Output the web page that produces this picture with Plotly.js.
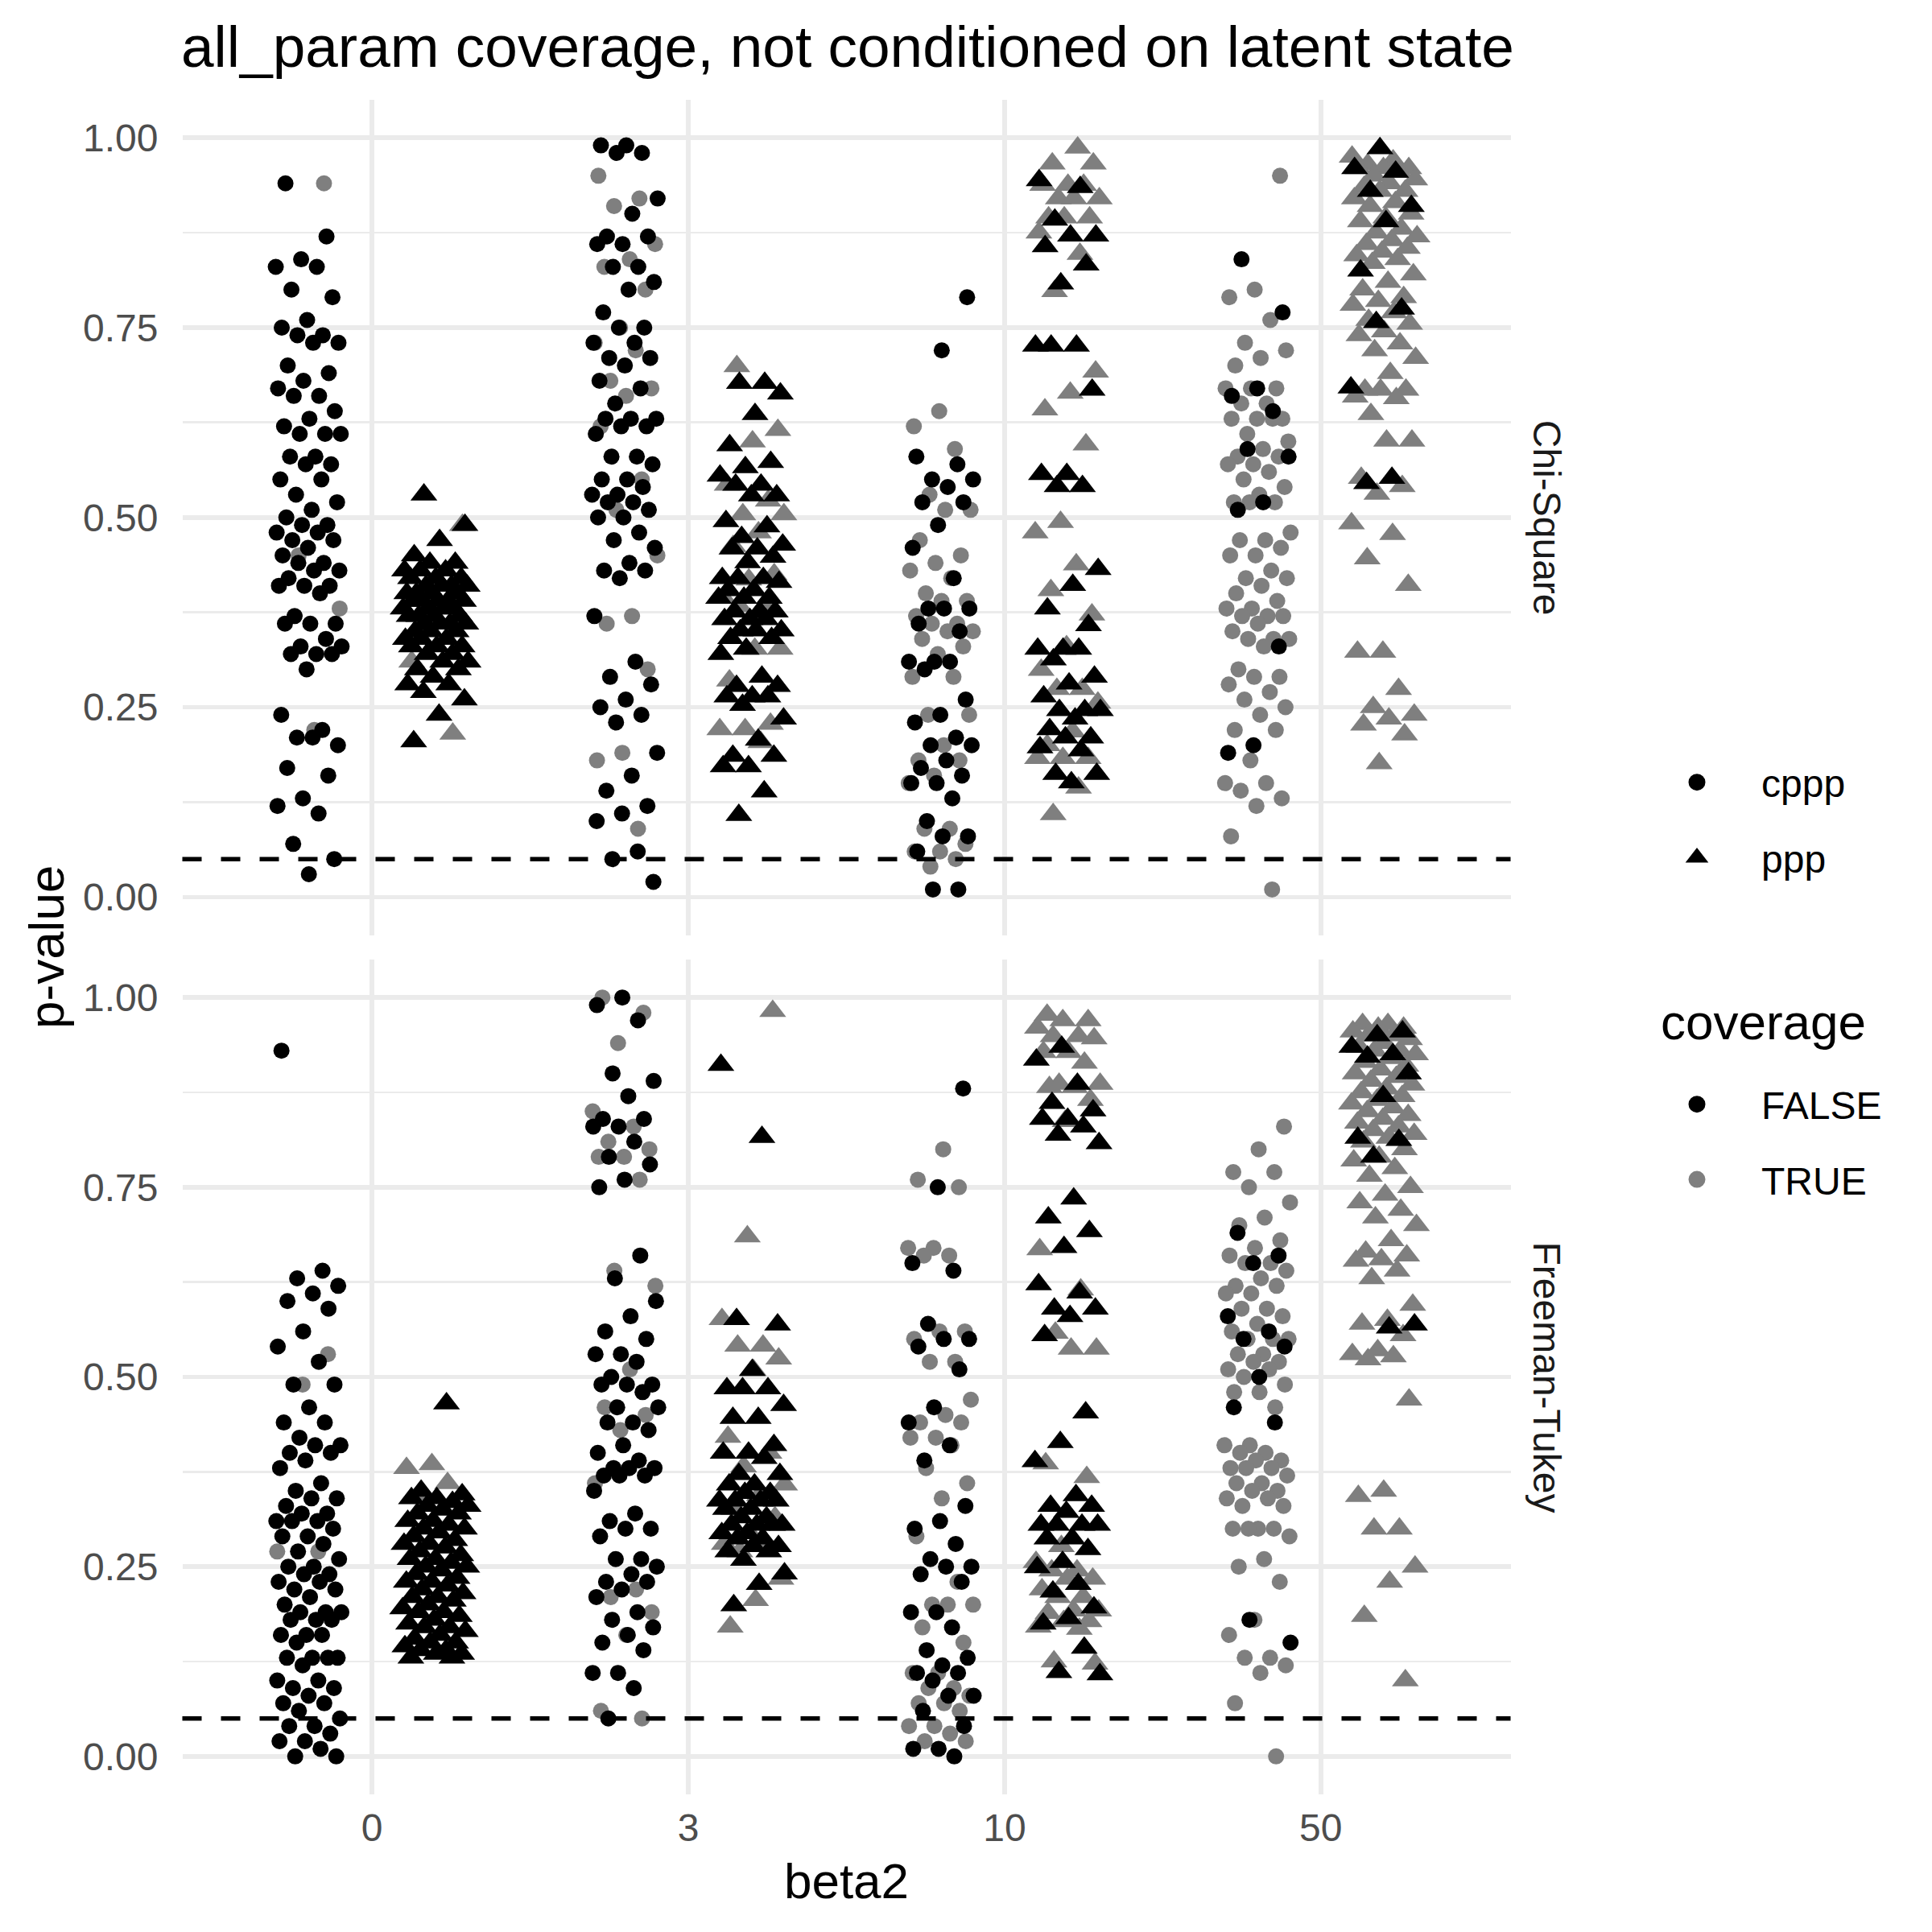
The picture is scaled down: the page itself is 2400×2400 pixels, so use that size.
<!DOCTYPE html>
<html>
<head>
<meta charset="utf-8">
<script src="https://cdn.plot.ly/plotly-3.0.1.min.js"></script>
<style>html,body{margin:0;padding:0;background:#fff}</style>
</head>
<body>
<div id="chart" style="width:2400px;height:2400px"></div>
<script>
// ---------------- DATA ----------------
const categories = ["0", "3", "10", "50"];
const panels = ["Chi-Square", "Freeman-Tukey"];
const shapeLevels = ["cppp", "ppp"];
const coverageLevels = ["FALSE", "TRUE"];
const coverageTitle = "coverage";
const threshold = 0.05;

// Chi-Square panel, cppp (circles); one sub-array per beta2 category
const chiCpppFalse = [
  [0.94,0.87,0.84,0.83,0.83,0.80,0.79,0.76,0.75,0.74,0.74,0.73,0.73,0.70,0.69,0.68,0.67,0.66,0.66,0.64,0.63,0.62,0.61,0.61,0.61,0.58,0.58,0.57,0.57,0.55,0.55,0.53,0.52,0.51,0.50,0.49,0.49,0.48,0.48,0.47,0.47,0.46,0.45,0.44,0.44,0.43,0.43,0.42,0.41,0.41,0.41,0.40,0.37,0.36,0.36,0.36,0.34,0.33,0.33,0.32,0.32,0.32,0.30,0.24,0.22,0.21,0.20,0.21,0.17,0.16,0.13,0.12,0.11,0.07,0.05,0.03],
  [0.99,0.99,0.98,0.98,0.92,0.90,0.87,0.87,0.86,0.86,0.83,0.83,0.81,0.80,0.77,0.75,0.75,0.73,0.73,0.71,0.71,0.70,0.68,0.67,0.65,0.63,0.63,0.63,0.62,0.62,0.61,0.58,0.58,0.57,0.55,0.55,0.54,0.53,0.53,0.52,0.52,0.51,0.50,0.50,0.48,0.47,0.46,0.44,0.43,0.43,0.42,0.37,0.31,0.29,0.28,0.26,0.25,0.24,0.23,0.19,0.16,0.14,0.12,0.11,0.10,0.06,0.05,0.02],
  [0.79,0.72,0.58,0.57,0.55,0.55,0.54,0.52,0.52,0.49,0.46,0.42,0.38,0.38,0.38,0.36,0.35,0.31,0.31,0.31,0.30,0.26,0.24,0.23,0.21,0.20,0.20,0.18,0.17,0.16,0.15,0.15,0.13,0.10,0.08,0.08,0.06,0.01,0.01],
  [0.84,0.77,0.67,0.66,0.64,0.59,0.58,0.52,0.51,0.33,0.20,0.19]
];
const chiCpppTrue = [
  [0.94,0.45,0.38,0.22],
  [0.95,0.92,0.91,0.86,0.84,0.83,0.80,0.75,0.73,0.72,0.68,0.67,0.66,0.62,0.55,0.51,0.45,0.37,0.36,0.30,0.19,0.18,0.09],
  [0.64,0.62,0.59,0.53,0.51,0.51,0.47,0.45,0.44,0.43,0.42,0.40,0.39,0.39,0.37,0.36,0.36,0.35,0.35,0.34,0.33,0.32,0.29,0.29,0.24,0.24,0.20,0.18,0.18,0.16,0.15,0.09,0.09,0.07,0.06,0.06,0.05,0.04],
  [0.95,0.80,0.79,0.76,0.73,0.72,0.71,0.70,0.67,0.67,0.67,0.65,0.65,0.63,0.63,0.63,0.63,0.61,0.60,0.59,0.58,0.58,0.57,0.57,0.56,0.55,0.54,0.53,0.52,0.52,0.52,0.48,0.47,0.47,0.46,0.45,0.45,0.43,0.42,0.42,0.41,0.40,0.39,0.38,0.38,0.37,0.37,0.37,0.36,0.35,0.34,0.34,0.34,0.33,0.30,0.29,0.29,0.28,0.27,0.26,0.25,0.24,0.22,0.22,0.18,0.15,0.15,0.14,0.13,0.12,0.08,0.01]
];
// Chi-Square panel, ppp (triangles)
const chiPppFalse = [
  [0.53,0.49,0.47,0.45,0.44,0.44,0.43,0.43,0.43,0.42,0.42,0.42,0.41,0.41,0.41,0.41,0.40,0.40,0.40,0.40,0.39,0.39,0.39,0.39,0.39,0.38,0.38,0.38,0.38,0.37,0.37,0.37,0.37,0.36,0.36,0.36,0.36,0.35,0.35,0.35,0.34,0.34,0.34,0.33,0.33,0.33,0.32,0.32,0.31,0.31,0.30,0.30,0.29,0.28,0.28,0.27,0.26,0.24,0.205],
  [0.677,0.677,0.663,0.636,0.595,0.573,0.566,0.555,0.543,0.543,0.529,0.529,0.495,0.488,0.474,0.464,0.459,0.459,0.448,0.441,0.42,0.42,0.42,0.415,0.404,0.404,0.394,0.394,0.394,0.376,0.376,0.376,0.366,0.366,0.366,0.351,0.351,0.351,0.341,0.341,0.327,0.32,0.29,0.278,0.278,0.264,0.264,0.264,0.253,0.235,0.207,0.186,0.186,0.172,0.172,0.139,0.108],
  [0.944,0.935,0.892,0.871,0.871,0.857,0.833,0.808,0.726,0.726,0.726,0.668,0.557,0.557,0.541,0.541,0.432,0.411,0.38,0.358,0.327,0.327,0.327,0.313,0.29,0.281,0.264,0.246,0.246,0.246,0.235,0.221,0.21,0.21,0.197,0.193,0.162,0.162,0.151],
  [0.986,0.96,0.955,0.93,0.91,0.89,0.825,0.775,0.757,0.671,0.552,0.545]
];
const chiPppTrue = [
  [0.49,0.36,0.31,0.215],
  [0.699,0.615,0.60,0.543,0.522,0.504,0.504,0.48,0.462,0.425,0.418,0.394,0.383,0.383,0.327,0.327,0.285,0.228,0.221,0.221,0.204],
  [0.987,0.966,0.966,0.938,0.938,0.938,0.92,0.92,0.92,0.895,0.895,0.895,0.875,0.847,0.798,0.692,0.664,0.642,0.596,0.494,0.48,0.438,0.404,0.372,0.33,0.299,0.274,0.274,0.256,0.218,0.2,0.183,0.183,0.183,0.144,0.109],
  [0.975,0.97,0.965,0.96,0.96,0.96,0.955,0.95,0.945,0.94,0.935,0.93,0.93,0.92,0.915,0.91,0.90,0.895,0.89,0.88,0.875,0.87,0.865,0.86,0.855,0.85,0.845,0.84,0.835,0.82,0.81,0.80,0.79,0.785,0.78,0.77,0.76,0.755,0.745,0.74,0.729,0.72,0.71,0.69,0.668,0.668,0.668,0.659,0.657,0.636,0.601,0.601,0.552,0.541,0.531,0.492,0.478,0.446,0.411,0.323,0.323,0.274,0.25,0.24,0.235,0.227,0.214,0.176]
];

// Freeman-Tukey panel, cppp (circles)
const ftCpppFalse = [
  [0.93,0.64,0.63,0.62,0.61,0.60,0.59,0.56,0.54,0.52,0.49,0.49,0.46,0.44,0.44,0.42,0.41,0.41,0.40,0.40,0.39,0.38,0.36,0.35,0.34,0.34,0.33,0.32,0.32,0.31,0.31,0.31,0.30,0.29,0.29,0.28,0.27,0.26,0.25,0.25,0.24,0.24,0.23,0.23,0.22,0.22,0.21,0.20,0.19,0.19,0.19,0.18,0.18,0.18,0.16,0.16,0.16,0.15,0.13,0.13,0.13,0.13,0.12,0.10,0.10,0.09,0.09,0.08,0.07,0.07,0.06,0.05,0.04,0.04,0.03,0.02,0.02,0.01,0.00,0.00],
  [1.00,0.99,0.97,0.90,0.89,0.87,0.84,0.84,0.83,0.83,0.81,0.79,0.78,0.76,0.75,0.66,0.63,0.60,0.58,0.56,0.55,0.53,0.53,0.52,0.50,0.49,0.49,0.49,0.48,0.46,0.46,0.44,0.44,0.43,0.41,0.40,0.39,0.38,0.38,0.38,0.37,0.37,0.37,0.35,0.32,0.31,0.30,0.30,0.29,0.26,0.26,0.25,0.24,0.23,0.23,0.22,0.21,0.19,0.18,0.17,0.16,0.15,0.14,0.11,0.11,0.09,0.05],
  [0.88,0.75,0.65,0.64,0.57,0.55,0.55,0.54,0.51,0.46,0.44,0.41,0.39,0.33,0.31,0.30,0.28,0.26,0.25,0.25,0.24,0.23,0.19,0.19,0.17,0.14,0.13,0.12,0.11,0.11,0.10,0.08,0.08,0.06,0.04,0.01,0.01,0.00],
  [0.69,0.66,0.65,0.58,0.56,0.55,0.54,0.50,0.46,0.44,0.18,0.15]
];
const ftCpppTrue = [
  [0.53,0.49,0.27,0.27],
  [1.00,0.98,0.94,0.85,0.83,0.81,0.80,0.79,0.79,0.76,0.64,0.62,0.51,0.46,0.45,0.43,0.36,0.22,0.21,0.19,0.16,0.06,0.05],
  [0.80,0.76,0.75,0.67,0.67,0.66,0.66,0.56,0.56,0.55,0.52,0.52,0.47,0.45,0.44,0.44,0.42,0.42,0.41,0.38,0.36,0.34,0.29,0.23,0.20,0.20,0.20,0.17,0.15,0.11,0.11,0.09,0.09,0.08,0.07,0.07,0.06,0.04,0.04,0.03,0.02,0.02],
  [0.83,0.80,0.77,0.77,0.75,0.73,0.71,0.70,0.68,0.67,0.66,0.65,0.65,0.64,0.63,0.62,0.62,0.61,0.61,0.59,0.59,0.58,0.57,0.56,0.55,0.55,0.55,0.53,0.53,0.52,0.52,0.51,0.51,0.50,0.49,0.48,0.48,0.46,0.41,0.41,0.40,0.40,0.39,0.39,0.38,0.38,0.38,0.37,0.36,0.36,0.35,0.35,0.34,0.34,0.33,0.33,0.30,0.30,0.30,0.30,0.29,0.26,0.25,0.23,0.18,0.16,0.13,0.13,0.12,0.11,0.07,0.00]
];
// Freeman-Tukey panel, ppp (triangles)
const ftPppFalse = [
  [0.465,0.35,0.345,0.34,0.34,0.335,0.33,0.33,0.325,0.32,0.32,0.31,0.31,0.305,0.30,0.30,0.295,0.29,0.285,0.28,0.28,0.275,0.27,0.265,0.26,0.26,0.255,0.25,0.25,0.245,0.24,0.235,0.23,0.23,0.225,0.22,0.215,0.21,0.21,0.205,0.20,0.195,0.19,0.19,0.185,0.18,0.175,0.17,0.17,0.165,0.16,0.155,0.15,0.15,0.145,0.14,0.14,0.135,0.135,0.13,0.13],
  [0.911,0.816,0.576,0.569,0.509,0.485,0.485,0.485,0.463,0.446,0.446,0.41,0.40,0.40,0.393,0.372,0.372,0.358,0.358,0.347,0.347,0.337,0.337,0.337,0.337,0.326,0.326,0.315,0.315,0.305,0.305,0.305,0.305,0.294,0.294,0.287,0.287,0.277,0.277,0.27,0.27,0.259,0.241,0.227,0.199],
  [0.935,0.918,0.886,0.861,0.851,0.84,0.84,0.83,0.819,0.808,0.735,0.71,0.692,0.671,0.622,0.611,0.59,0.59,0.58,0.555,0.453,0.414,0.389,0.344,0.33,0.33,0.322,0.305,0.305,0.305,0.305,0.287,0.287,0.273,0.256,0.249,0.227,0.217,0.196,0.182,0.175,0.143,0.111,0.108],
  [0.955,0.95,0.935,0.925,0.922,0.90,0.87,0.815,0.812,0.79,0.569,0.565]
];
const ftPppTrue = [
  [0.385,0.38,0.36,0.345],
  [0.982,0.685,0.576,0.541,0.541,0.524,0.509,0.421,0.40,0.382,0.358,0.344,0.326,0.315,0.294,0.28,0.28,0.27,0.234,0.206,0.171],
  [0.977,0.97,0.97,0.96,0.949,0.949,0.946,0.928,0.928,0.914,0.886,0.886,0.882,0.882,0.865,0.837,0.668,0.615,0.558,0.537,0.537,0.386,0.368,0.277,0.256,0.245,0.245,0.234,0.234,0.22,0.21,0.21,0.192,0.192,0.189,0.178,0.178,0.171,0.168,0.125,0.122],
  [0.965,0.965,0.96,0.96,0.955,0.95,0.95,0.945,0.94,0.935,0.93,0.93,0.925,0.92,0.915,0.91,0.905,0.90,0.895,0.89,0.885,0.88,0.875,0.87,0.865,0.86,0.855,0.85,0.845,0.84,0.835,0.83,0.825,0.82,0.815,0.81,0.80,0.79,0.785,0.775,0.765,0.75,0.74,0.73,0.72,0.71,0.70,0.68,0.665,0.66,0.655,0.653,0.64,0.63,0.595,0.575,0.57,0.555,0.535,0.53,0.527,0.523,0.47,0.35,0.343,0.30,0.30,0.25,0.23,0.185,0.10]
];

// ---------------- STYLE / LAYOUT ----------------
const W = 2400, H = 2400;
const FONT = "Liberation Sans, Arial, sans-serif";
const BLACK = "#000000", GREY = "#7f7f7f";
const GRID = "#ebebeb";
const px = {l: 226.5, r: 1876.5};
const topPanel = {t: 124, b: 1161.5};
const botPanel = {t: 1192, b: 2229};
const fx = v => v / W;
const fy = v => 1 - v / H;

const dodge = {cppp: -0.2, ppp: 0.2};
const jitterHalf = 0.105;
const symbols = {cppp: "circle", ppp: "triangle-up"};
const sizes = {cppp: 20, ppp: 29};
const colours = {FALSE: BLACK, TRUE: GREY};

function buildTrace(groups, shape, cov, xa, ya, seed) {
  const xs = [], ys = [];
  groups.forEach((vals, ci) => {
    vals.forEach((v, i) => {
      const u = ((i + 1) * 0.6180339887 + seed + ci * 0.37) % 1;
      xs.push(ci + 1 + dodge[shape] + (u - 0.5) * 2 * jitterHalf);
      ys.push(v);
    });
  });
  return {
    type: "scatter", mode: "markers", x: xs, y: ys, xaxis: xa, yaxis: ya,
    showlegend: false, hoverinfo: "skip",
    marker: {symbol: symbols[shape], size: sizes[shape], color: colours[cov], line: {width: 0}}
  };
}

const traces = [
  buildTrace(chiCpppTrue, "cppp", "TRUE", "x2", "y", 0.11),
  buildTrace(chiCpppFalse, "cppp", "FALSE", "x2", "y", 0.53),
  buildTrace(chiPppTrue, "ppp", "TRUE", "x2", "y", 0.29),
  buildTrace(chiPppFalse, "ppp", "FALSE", "x2", "y", 0.71),
  buildTrace(ftCpppTrue, "cppp", "TRUE", "x", "y2", 0.17),
  buildTrace(ftCpppFalse, "cppp", "FALSE", "x", "y2", 0.47),
  buildTrace(ftPppTrue, "ppp", "TRUE", "x", "y2", 0.83),
  buildTrace(ftPppFalse, "ppp", "FALSE", "x", "y2", 0.05)
];

// legend entries (marker outline in the same colour enlarges the capped legend symbol)
shapeLevels.forEach((s, i) => traces.push({
  type: "scatter", mode: "markers", x: [null], y: [null], xaxis: "x", yaxis: "y2",
  name: s, legend: "legend", legendgroup: "s" + i, showlegend: true,
  marker: {symbol: symbols[s], size: 16, color: BLACK, line: {width: 5, color: BLACK}}
}));
coverageLevels.forEach((c, i) => traces.push({
  type: "scatter", mode: "markers", x: [null], y: [null], xaxis: "x", yaxis: "y2",
  name: c, legend: "legend2", legendgroup: "c" + i, showlegend: true,
  marker: {symbol: "circle", size: 16, color: colours[c], line: {width: 5, color: colours[c]}}
}));

const yaxisCommon = {
  range: [-0.05, 1.05], tickvals: [0, 0.25, 0.5, 0.75, 1], tickformat: ".2f",
  showgrid: true, gridcolor: GRID, gridwidth: 5.5, zeroline: false, showline: false,
  ticks: "", tickfont: {family: FONT, size: 48, color: "#4d4d4d"},
  ticklabelstandoff: 29,
  minor: {tickvals: [0.125, 0.375, 0.625, 0.875], showgrid: true, gridcolor: GRID, gridwidth: 2.8, ticks: ""}
};
const xaxisCommon = {
  range: [0.4, 4.6], tickvals: [1, 2, 3, 4], ticktext: categories,
  showgrid: true, gridcolor: GRID, gridwidth: 5.5, zeroline: false, showline: false,
  ticks: "", tickfont: {family: FONT, size: 48, color: "#4d4d4d"},
  domain: [fx(px.l), fx(px.r)]
};

const legendCommon = {
  xanchor: "left", yanchor: "top", bgcolor: "rgba(0,0,0,0)", borderwidth: 0,
  itemwidth: 150, tracegroupgap: 28, itemclick: false, itemdoubleclick: false,
  font: {family: FONT, size: 48, color: "#000000"}
};

const layout = {
  width: W, height: H,
  margin: {l: 0, r: 0, t: 0, b: 0},
  paper_bgcolor: "#ffffff", plot_bgcolor: "#ffffff",
  font: {family: FONT, color: "#000000"},
  title: {text: "all_param coverage, not conditioned on latent state",
          x: fx(225), xanchor: "left", xref: "paper", y: fy(57), yanchor: "middle",
          font: {family: FONT, size: 73, color: "#000000"}},
  xaxis: Object.assign({}, xaxisCommon, {anchor: "y2", ticklabelstandoff: 9,
          title: {text: "beta2", font: {family: FONT, size: 62, color: "#000000"}, standoff: 18}}),
  xaxis2: Object.assign({}, xaxisCommon, {anchor: "y", matches: "x", showticklabels: false}),
  yaxis: Object.assign({}, yaxisCommon, {anchor: "x2", domain: [fy(topPanel.b), fy(topPanel.t)]}),
  yaxis2: Object.assign({}, yaxisCommon, {anchor: "x", domain: [fy(botPanel.b), fy(botPanel.t)]}),
  shapes: [
    {type: "line", xref: "x2 domain", yref: "y", x0: 0, x1: 1, y0: threshold, y1: threshold,
     line: {color: BLACK, width: 5.5, dash: "24px,24px"}, layer: "above"},
    {type: "line", xref: "x domain", yref: "y2", x0: 0, x1: 1, y0: threshold, y1: threshold,
     line: {color: BLACK, width: 5.5, dash: "24px,24px"}, layer: "above"}
  ],
  annotations: [
    {text: panels[0], xref: "paper", yref: "paper", x: fx(1921), y: fy((topPanel.t + topPanel.b) / 2),
     textangle: 90, showarrow: false, xanchor: "center", yanchor: "middle",
     font: {family: FONT, size: 48, color: "#1a1a1a"}},
    {text: panels[1], xref: "paper", yref: "paper", x: fx(1921), y: fy((botPanel.t + botPanel.b) / 2),
     textangle: 90, showarrow: false, xanchor: "center", yanchor: "middle",
     font: {family: FONT, size: 48, color: "#1a1a1a"}},
    {text: "p-value", xref: "paper", yref: "paper", x: fx(57), y: fy(1177),
     textangle: -90, showarrow: false, xanchor: "center", yanchor: "middle",
     font: {family: FONT, size: 62, color: "#000000"}},
    {text: coverageTitle, xref: "paper", yref: "paper", x: fx(2061), y: fy(1269),
     showarrow: false, xanchor: "left", yanchor: "middle",
     font: {family: FONT, size: 62, color: "#000000"}}
  ],
  legend: Object.assign({}, legendCommon, {x: fx(2028), y: fy(934)}),
  legend2: Object.assign({}, legendCommon, {x: fx(2028), y: fy(1334)})
};

Plotly.newPlot("chart", traces, layout, {staticPlot: true, displayModeBar: false});
</script>
</body>
</html>
